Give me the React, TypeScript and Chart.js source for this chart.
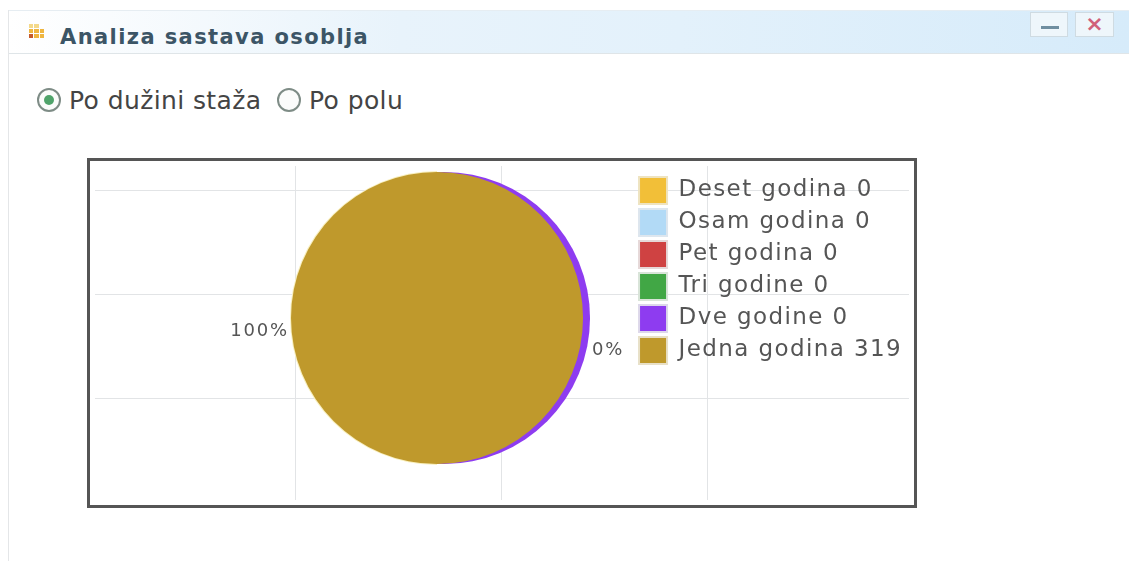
import React, { useEffect, useRef } from "react";
import { Chart, registerables } from "chart.js";

Chart.register(...registerables);

const categories = ["Deset godina", "Osam godina", "Pet godina", "Tri godine", "Dve godine", "Jedna godina"];
const headcounts = [0, 0, 0, 0, 0, 319];
const sliceColors = ["#f2bf38", "#b2daf6", "#cf4242", "#41a745", "#8e3cf0", "#bf992c"];
const swatchBorders = ["#eee3c0", "#dde6ee", "#e6d8d8", "#d8e4d8", "#ddd8ea", "#e8e0c8"];
const gridXTicks = [1, 2, 3];
const gridYTicks = [1, 2, 3];
const radioOptions = ["Po dužini staža", "Po polu"];
const titleText = "Analiza sastava osoblja";

const UI_FONT = '"DejaVu Sans", sans-serif';
const TEXT = "#555555";
const PURPLE_INDEX = 4;
const FULL_INDEX = 5;

// Wider tracking for everything the legend measures and draws.
const trackingPlugin = {
  id: "tracking",
  afterInit(chart: any) {
    chart.ctx.letterSpacing = "1.4px";
  },
};

// Purple rim showing behind the full slice, plus the pale halo around the pie.
const rimPlugin = {
  id: "rim",
  beforeDatasetsDraw(chart: any) {
    const arc = chart.getDatasetMeta(0).data[PURPLE_INDEX];
    const { ctx } = chart;
    ctx.save();
    ctx.fillStyle = sliceColors[PURPLE_INDEX];
    ctx.beginPath();
    ctx.arc(arc.x + 7, arc.y, arc.outerRadius, 0, Math.PI * 2);
    ctx.fill();
    ctx.fillStyle = "#f8efbe";
    ctx.beginPath();
    ctx.arc(arc.x, arc.y, arc.outerRadius + 1, Math.PI / 2, (Math.PI * 3) / 2);
    ctx.fill();
    ctx.restore();
  },
};

// Percentage captions for the two visible shares.
const shareLabelPlugin = {
  id: "shareLabels",
  afterDatasetsDraw(chart: any) {
    const total = headcounts.reduce((a, b) => a + b, 0);
    const arc = chart.getDatasetMeta(0).data[FULL_INDEX];
    const { ctx } = chart;
    const put = (i: number, dx: number, dy: number, align: CanvasTextAlign) => {
      ctx.textAlign = align;
      ctx.fillText(`${Math.round((headcounts[i] / total) * 100)}%`, arc.x + dx, arc.y + dy);
    };
    ctx.save();
    ctx.font = `18px ${UI_FONT}`;
    ctx.letterSpacing = "1.8px";
    ctx.fillStyle = TEXT;
    ctx.textBaseline = "middle";
    put(FULL_INDEX, -148, 13, "right");
    put(PURPLE_INDEX, 155, 32, "left");
    ctx.restore();
  },
};

function useChart(build: (canvas: HTMLCanvasElement) => Chart) {
  const ref = useRef<HTMLCanvasElement>(null);
  useEffect(() => {
    const chart = build(ref.current!);
    return () => chart.destroy();
  }, []);
  return ref;
}

function Panel() {
  return (
    <>
      <div style={{ position: "absolute", left: 8, top: 10, right: 0, height: 42, borderTop: "1px solid #e6edf2", borderBottom: "1px solid #dfe5e8", background: "linear-gradient(90deg,#ffffff 0%,#e8f3fb 35%,#e3f1fb 60%,#d6ebfa 100%)" }} />
      <div style={{ position: "absolute", left: 8, top: 10, bottom: 0, width: 1, background: "#e4e6e8" }} />
      <div style={{ position: "absolute", left: 29, top: 24, width: 15, height: 14, display: "grid", gridTemplateColumns: "repeat(3,1fr)", gap: 1 }}>
        {["#f4d98a", "#f4d98a", "#fff", "#efb640", "#efb640", "#efb640", "#c65a2a", "#efb640", "#efb640"].map((c, i) => (
          <span key={i} style={{ background: c }} />
        ))}
      </div>
      <div style={{ position: "absolute", left: 60, top: 25, font: `bold 21px ${UI_FONT}`, color: "#3c5566", letterSpacing: "1.4px", whiteSpace: "nowrap" }}>{titleText}</div>
      <div style={{ position: "absolute", left: 1030, top: 12, width: 38, height: 25, border: "1px solid #cfdbe2", boxSizing: "border-box", background: "#eef6fb" }}>
        <div style={{ position: "absolute", left: 10, top: 13, width: 18, height: 3, background: "#6f8ea0" }} />
      </div>
      <div style={{ position: "absolute", left: 1075, top: 12, width: 39, height: 25, border: "1px solid #cfdbe2", boxSizing: "border-box", background: "#eef6fb", color: "#d0607a", font: `bold 22px ${UI_FONT}`, textAlign: "center", lineHeight: "22px" }}>×</div>
      {radioOptions.map((label, i) => (
        <React.Fragment key={label}>
          <div style={{ position: "absolute", left: i === 0 ? 37 : 277, top: 88, width: 24, height: 24, borderRadius: "50%", border: "2px solid #7e8c86", boxSizing: "border-box", background: "#fbfcfb" }}>
            {i === 0 && <div style={{ position: "absolute", left: 5, top: 5, width: 10, height: 10, borderRadius: "50%", background: "#4fa36a" }} />}
          </div>
          <div style={{ position: "absolute", left: i === 0 ? 69 : 309, top: 86, font: `25px ${UI_FONT}`, color: "#444", letterSpacing: "0.4px", whiteSpace: "nowrap" }}>{label}</div>
        </React.Fragment>
      ))}
    </>
  );
}

export default function App() {
  // Framed plot background: an empty chart that contributes only its grid lines.
  const gridRef = useChart(
    (canvas) =>
      new Chart(canvas, {
        type: "scatter",
        data: { datasets: [{ data: [] }] },
        options: {
          animation: false,
          responsive: false,
          layout: { padding: 5 },
          plugins: { legend: { display: false }, tooltip: { enabled: false } },
          scales: {
            x: {
              type: "linear", min: 0.03, max: 3.976,
              afterBuildTicks: (s: any) => { s.ticks = gridXTicks.map((value) => ({ value })); },
              ticks: { display: false },
              grid: { color: "#e2e4e6", drawTicks: false },
              border: { display: false },
            },
            y: {
              type: "linear", min: 0.03, max: 3.23,
              afterBuildTicks: (s: any) => { s.ticks = gridYTicks.map((value) => ({ value })); },
              ticks: { display: false },
              grid: { color: "#e2e4e6", drawTicks: false },
              border: { display: false },
            },
          },
        },
      })
  );

  const pieRef = useChart(
    (canvas) =>
      new Chart(canvas, {
        type: "pie",
        data: {
          labels: categories,
          datasets: [{ data: headcounts, backgroundColor: sliceColors, borderWidth: 0 }],
        },
        options: {
          animation: false,
          responsive: false,
          rotation: 90,
          layout: { padding: { left: 240, top: 172, right: 217, bottom: 97 } },
          plugins: {
            tooltip: { enabled: false },
            legend: {
              position: "right",
              align: "start",
              labels: {
                boxWidth: 28,
                boxHeight: 27,
                padding: 5,
                color: TEXT,
                font: { family: "DejaVu Sans", size: 23 },
                generateLabels: () =>
                  categories.map((c, i) => ({
                    text: `${c} ${headcounts[i]}`,
                    fillStyle: sliceColors[i],
                    strokeStyle: swatchBorders[i],
                    lineWidth: 2,
                    fontColor: TEXT,
                    datasetIndex: 0,
                    index: i,
                  })),
              },
            },
          },
        },
        plugins: [trackingPlugin, rimPlugin, shareLabelPlugin],
      })
  );

  return (
    <div style={{ position: "absolute", left: 0, top: 0, width: 1129, height: 561, overflow: "hidden", background: "#ffffff" }}>
      <Panel />
      <div style={{ position: "absolute", left: 87, top: 158, width: 830, height: 350, border: "3px solid #555555", boxSizing: "border-box", background: "#fff" }}>
        <canvas ref={gridRef} width={824} height={344} style={{ display: "block" }} />
      </div>
      <canvas ref={pieRef} width={1129} height={561} style={{ position: "absolute", left: 0, top: 0 }} />
    </div>
  );
}
